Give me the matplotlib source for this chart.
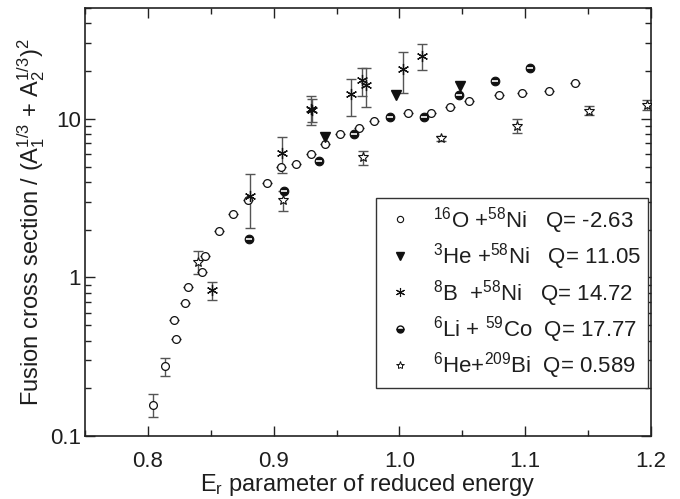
import matplotlib
matplotlib.use("Agg")
import matplotlib.pyplot as plt
from matplotlib.lines import Line2D
from matplotlib.ticker import FixedLocator, NullFormatter, FixedFormatter
import numpy as np

plt.rcParams['font.family'] = ['Liberation Sans', 'DejaVu Sans']
plt.rcParams['mathtext.fontset'] = 'custom'
plt.rcParams['mathtext.rm'] = 'Liberation Sans'
plt.rcParams['mathtext.it'] = 'Liberation Sans:italic'
plt.rcParams['mathtext.bf'] = 'Liberation Sans:bold'
plt.rcParams['mathtext.default'] = 'regular'

# ---- data ----
# 16O + 58Ni (open circles)
o_x = [0.8038, 0.8138, 0.8221, 0.8210, 0.8293, 0.8317, 0.8430, 0.8454, 0.8568, 0.8679,
       0.8798, 0.8945, 0.9056, 0.9178, 0.9294, 0.9411, 0.9530, 0.9678, 0.9795, 1.0070,
       1.0251, 1.0402, 1.0551, 1.0794, 1.0974, 1.1187, 1.1398]
o_y = [0.157, 0.276, 0.407, 0.538, 0.692, 0.867, 1.086, 1.358, 1.96, 2.52,
       3.08, 3.96, 4.95, 5.21, 6.03, 6.90, 7.98, 8.71, 9.73, 10.9,
       10.9, 11.9, 13.0, 14.2, 14.6, 15.0, 16.9]
o_lo = [0.026, 0.037] + [0] * 25
o_hi = [0.026, 0.036] + [0] * 25

# 3He + 58Ni (filled down triangles)
he3_x = [0.9411, 0.9973, 1.0481]
he3_y = [7.71, 14.1, 16.1]

# 8B + 58Ni (asterisks)
b8_x = [0.851, 0.8812, 0.9064, 0.9299, 0.9305, 0.9615, 0.9700, 0.9734, 1.0026, 1.0177]
b8_y = [0.83, 3.26, 6.11, 11.6, 11.3, 14.3, 17.6, 16.3, 20.5, 24.9]
b8_lo = [0.11, 1.21, 1.54, 2.46, 1.7, 3.9, 3.7, 4.5, 6.0, 4.6]
b8_hi = [0.11, 1.23, 1.57, 2.3, 2.1, 3.6, 3.4, 4.5, 6.0, 4.6]

# 6Li + 59Co (half-filled circles)
li_x = [0.8806, 0.9082, 0.9363, 0.9636, 0.9925, 1.0198, 1.0476, 1.0757, 1.1038]
li_y = [1.75, 3.51, 5.42, 7.98, 10.3, 10.2, 14.2, 17.2, 20.8]

# 6He + 209Bi (open stars)
he6_x = [0.8401, 0.9072, 0.9713, 1.0333, 1.0932, 1.1505, 1.1970]
he6_y = [1.26, 3.08, 5.72, 7.54, 9.01, 11.25, 12.3]
he6_lo = [0.21, 0.45, 0.61, 0.3, 0.84, 0.75, 0.9]
he6_hi = [0.21, 0.45, 0.57, 0.3, 0.96, 0.85, 0.9]

labels = [r'$^{16}$O +$^{58}$Ni   Q= -2.63',
          r'$^{3}$He +$^{58}$Ni   Q= 11.05',
          r'$^{8}$B  +$^{58}$Ni   Q= 14.72',
          r'$^{6}$Li + $^{59}$Co  Q= 17.77',
          r'$^{6}$He+$^{209}$Bi  Q= 0.589']

xticks = [0.8, 0.9, 1.0, 1.1, 1.2]
xticklabels = ['0.8', '0.9', '1.0', '1.1', '1.2']
yticks = [0.1, 1, 10]
yticklabels = ['0.1', '1', '10']

# ---- plot ----
fig = plt.figure(figsize=(6.80, 4.99), dpi=100)
ax = fig.add_axes([85 / 680, 1 - 436 / 499, 566 / 680, 428 / 499])

txt = '#1e1e1e'
mk = '#111111'
ecol = '#555555'

ax.errorbar(o_x, o_y, yerr=[o_lo, o_hi], fmt='none', ecolor=ecol, elinewidth=1.0,
            capsize=3.3, capthick=1.0, zorder=2)
ax.plot(o_x, o_y, 'o', ms=5.6, mfc='white', mec=mk, mew=0.9, ls='none', zorder=3)

ax.errorbar(b8_x, b8_y, yerr=[b8_lo, b8_hi], fmt='none', ecolor=ecol, elinewidth=1.0,
            capsize=3.3, capthick=1.0, zorder=2)
ax.plot(b8_x, b8_y, marker=(6, 2, 0), ms=8, mec=mk, mew=0.9, ls='none', zorder=4)

ax.errorbar(he6_x, he6_y, yerr=[he6_lo, he6_hi], fmt='none', ecolor=ecol, elinewidth=1.0,
            capsize=3.3, capthick=1.0, zorder=2)
ax.plot(he6_x, he6_y, '*', ms=7.5, mfc='white', mec=mk, mew=0.8, ls='none', zorder=4)

ax.plot(li_x, li_y, 'o', ms=6.2, mfc=mk, mec=mk, mew=0.8, ls='none', zorder=4)
ax.plot(li_x, li_y, '_', ms=4.5, mec='white', mew=1.2, ls='none', zorder=5)

ax.plot(he3_x, he3_y, 'v', ms=6.5, mfc=mk, mec=mk, ls='none', zorder=4)

ax.set_xscale('linear')
ax.set_yscale('log')
ax.set_xlim(0.75, 1.2)
ax.set_ylim(0.1, 50)

ax.xaxis.set_major_locator(FixedLocator(xticks))
ax.xaxis.set_major_formatter(FixedFormatter(xticklabels))
ax.xaxis.set_minor_locator(FixedLocator([0.75, 0.85, 0.95, 1.05, 1.15]))
ax.yaxis.set_major_locator(FixedLocator(yticks))
ax.yaxis.set_major_formatter(FixedFormatter(yticklabels))
ax.yaxis.set_minor_locator(FixedLocator([m * d for d in (0.1, 1, 10) for m in range(2, 10)]))
ax.yaxis.set_minor_formatter(NullFormatter())

ax.tick_params(which='both', direction='in', top=True, right=True, colors='#222222',
               labelsize=16, labelcolor=txt, width=1.0)
ax.tick_params(which='major', length=7)
ax.tick_params(which='minor', length=4)
ax.tick_params(axis='x', which='major', pad=11)
ax.tick_params(axis='y', which='major', pad=3)
for s in ax.spines.values():
    s.set_linewidth(1.2)
    s.set_color('#222222')

ax.set_xlabel(r'E$_{r}$ parameter of reduced energy', fontsize=17, color=txt, labelpad=0)
ax.set_ylabel(r'Fusion cross section / (A$_1^{1/3}$ + A$_2^{1/3}$)$^2$', fontsize=17,
              color=txt, labelpad=2)

handles = [
    Line2D([], [], marker='o', ms=4.5, mfc='white', mec=mk, mew=0.8, ls='none'),
    Line2D([], [], marker='v', ms=5.5, mfc=mk, mec=mk, ls='none'),
    Line2D([], [], marker=(6, 2, 0), ms=6.5, mec=mk, mew=0.8, ls='none'),
    (Line2D([], [], marker='o', ms=5, mfc=mk, mec=mk, fillstyle='bottom',
            markerfacecoloralt='white', ls='none'),),
    Line2D([], [], marker='*', ms=6, mfc='white', mec=mk, mew=0.7, ls='none'),
]
leg = ax.legend(handles, labels, loc='upper right', bbox_to_anchor=(0.995, 0.556),
                fontsize=16, frameon=True, fancybox=False, edgecolor='#333333',
                framealpha=1, handlelength=1.6, handletextpad=0.7, labelspacing=0.25,
                borderpad=0.3, borderaxespad=0)
leg.get_frame().set_linewidth(1.0)
for t in leg.get_texts():
    t.set_color(txt)

fig.savefig('out.png', dpi=100)
